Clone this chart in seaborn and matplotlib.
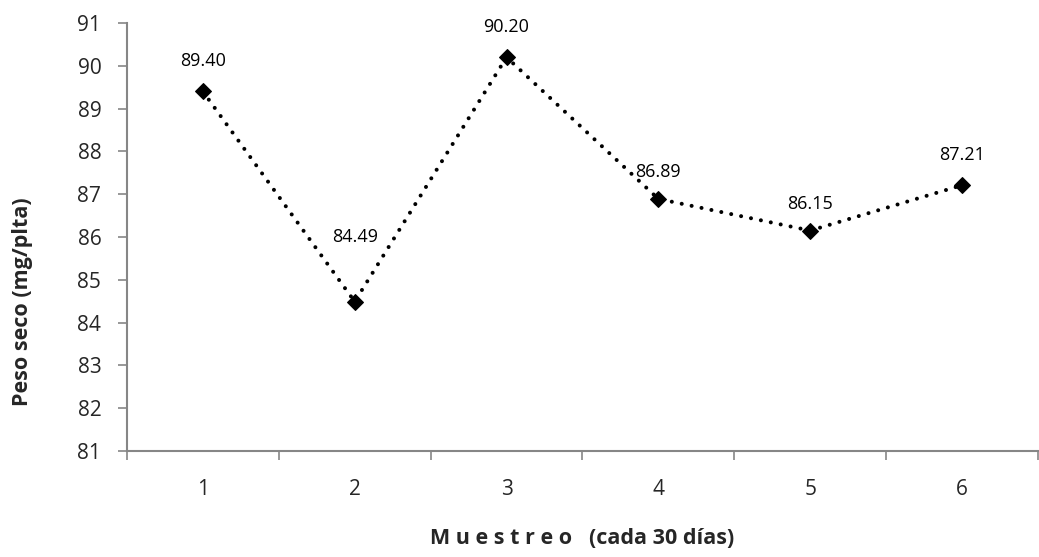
import matplotlib
matplotlib.use("Agg")
import matplotlib.pyplot as plt
import seaborn as sns
import pandas as pd
from matplotlib.ticker import FixedLocator

categories = ["1", "2", "3", "4", "5", "6"]
values = [89.40, 84.49, 90.20, 86.89, 86.15, 87.21]
yticks = [81, 82, 83, 84, 85, 86, 87, 88, 89, 90, 91]

sns.set_theme(style="white")
plt.rcParams['font.family'] = ['Open Sans', 'DejaVu Sans']

df = pd.DataFrame({"pos": range(len(categories)), "val": values})

fig = plt.figure(figsize=(10.39, 5.57), dpi=100)
ax = fig.add_axes([0.1222, 0.1903, 0.8768, 0.7684])

sns.lineplot(data=df, x="pos", y="val", ax=ax, color="black", linestyle=(0, (0.01, 2.5)),
             linewidth=2.9, dash_capstyle="round", marker="D", markersize=7.8,
             markeredgecolor="black", markerfacecolor="black")

# label offsets in pixels (second label was moved up in the original)
label_dy = [30, 65, 30, 27, 27, 30]
for x, v, dy in zip(df["pos"], values, label_dy):
    ax.annotate(f"{v:.2f}", (x, v), xytext=(0, dy * 0.72), textcoords="offset points",
                ha="center", va="center", fontsize=13, color="black")

ax.set_xlim(-0.5, len(categories) - 0.5)
ax.set_ylim(81, 91)
ax.set_yticks(yticks)
ax.set_yticklabels([str(t) for t in yticks], fontsize=15)
ax.set_xticks(range(len(categories)))
ax.set_xticklabels(categories, fontsize=15)
ax.xaxis.set_minor_locator(FixedLocator([i - 0.5 for i in range(len(categories) + 1)]))
ax.tick_params(axis="x", which="major", length=0, pad=20)
ax.tick_params(axis="x", which="minor", length=6.5, width=1.2, color="#868686", bottom=True)
ax.tick_params(axis="y", which="major", length=6.5, width=1.2, color="#868686", left=True, pad=12)

for s in ["top", "right"]:
    ax.spines[s].set_visible(False)
for s in ["left", "bottom"]:
    ax.spines[s].set_color("#868686")
    ax.spines[s].set_linewidth(1.5)

ax.set_xlabel("M u e s t r e o   (cada 30 días)", fontsize=15.5, fontweight="bold")
ax.set_ylabel("Peso seco (mg/plta)", fontsize=15.5, fontweight="bold")
ax.xaxis.set_label_coords(0.5, -0.18)
ax.yaxis.set_label_coords(-0.103, 0.35)

fig.savefig("out.png", dpi=100)
